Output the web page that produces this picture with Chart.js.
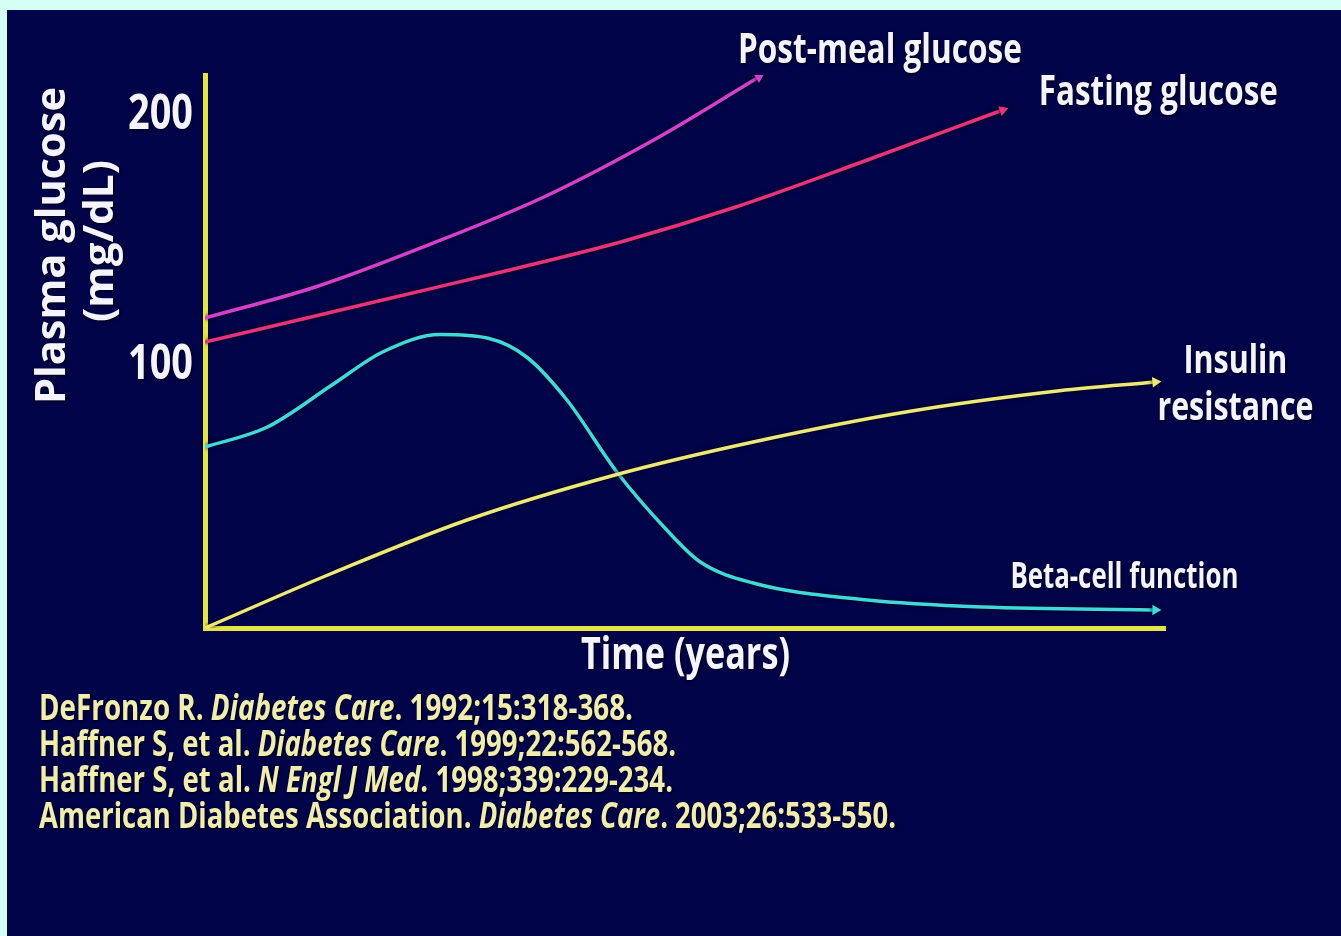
<!DOCTYPE html>
<html>
<head>
<meta charset="utf-8">
<script src="https://cdn.jsdelivr.net/npm/chart.js@4"></script>
<style>
  body { margin: 0; background: #d4fff4; overflow: hidden; }
  #wrap { position: absolute; left: 7px; top: 10px; width: 1334px; height: 926px; background: #02044a; }
</style>
</head>
<body>
<div id="wrap"><canvas id="chart1" width="1334" height="926"></canvas></div>
<script>
// values (x = time in arbitrary years, y = mg/dL)
const postMealT = [0, 1.15, 2.34, 3.53, 4.73, 5.77];
const postMealV = [117.6, 130, 147, 166, 190, 214];
const fastingT = [0, 1.94, 3.14, 4.33, 5.53, 6.9, 8.31];
const fastingV = [108, 125.6, 136.5, 148, 162, 180.8, 200.8];
const insulinT = [0, 1.33, 2.73, 4.29, 5.71, 7.3, 8.9, 9.9];
const insulinV = [-6.4, 15.6, 36.8, 55, 68, 80, 88.5, 92];
const betaT = [0, 0.65, 1.33, 1.85, 2.45, 2.95, 3.35, 3.77, 4.29, 4.81, 5.16, 5.71, 6.9, 8.1, 9.9];
const betaV = [66, 74, 91, 104, 111, 109.5, 102, 84.8, 56, 32.8, 20, 11.6, 4.8, 2, 0.8];
const yTicks = [100, 200];

const seriesNames = ['Post-meal glucose', 'Fasting glucose', 'Insulin resistance', 'Beta-cell function'];
const references = [
  ['DeFronzo R. ', 'Diabetes Care', '. 1992;15:318-368.'],
  ['Haffner S, et al. ', 'Diabetes Care', '. 1999;22:562-568.'],
  ['Haffner S, et al. ', 'N Engl J Med', '. 1998;339:229-234.'],
  ['American Diabetes Association. ', 'Diabetes Care', '. 2003;26:533-550.']
];

const axisYellow = '#e4e445';
const white = '#f4f4ff';
const refYellow = '#f1ecb0';

function pts(ts, vs) {
  return ts.map((t, i) => ({x: t, y: vs[i]}));
}

// arrow head on the last point, turned along the last segment
function lastOnly(v) {
  return ctx => (ctx.dataIndex === ctx.dataset.data.length - 1 ? v : 0);
}
function arrowAngle(ctx) {
  const d = ctx.dataset.data;
  const i = d.length - 1;
  if (ctx.dataIndex !== i) return 0;
  const xs = ctx.chart.scales.x, ys = ctx.chart.scales.y;
  const dx = xs.getPixelForValue(d[i].x) - xs.getPixelForValue(d[i - 1].x);
  const dy = ys.getPixelForValue(d[i].y) - ys.getPixelForValue(d[i - 1].y);
  return Math.atan2(dx, -dy) * 180 / Math.PI;
}

function line(label, data, color) {
  return {
    label: label,
    data: data,
    borderColor: color,
    backgroundColor: color,
    borderWidth: 3.5,
    cubicInterpolationMode: 'monotone',
    pointStyle: 'triangle',
    pointRadius: lastOnly(6),
    pointRotation: arrowAngle,
    pointBorderWidth: 0,
    pointBackgroundColor: color
  };
}

// squeeze text into a given width (the slide font is a narrow one)
function drawFit(ctx, text, left, base, w) {
  const m = ctx.measureText(text).width;
  ctx.save();
  ctx.translate(left, base);
  ctx.scale(w / m, 1);
  ctx.fillText(text, 0, 0);
  ctx.restore();
}

function drawMixed(ctx, parts, left, base, w, size) {
  const fonts = parts.map((p, i) => (i === 1 ? 'italic ' : '') + '700 ' + size + 'px "Open Sans"');
  let total = 0;
  const widths = parts.map((p, i) => { ctx.font = fonts[i]; const mw = ctx.measureText(p).width; total += mw; return mw; });
  const k = w / total;
  ctx.save();
  ctx.translate(left, base);
  ctx.scale(k, 1);
  let x = 0;
  parts.forEach((p, i) => {
    ctx.font = fonts[i];
    ctx.fillText(p, x, 0);
    x += widths[i];
  });
  ctx.restore();
}

const textPlugin = {
  id: 'slideText',
  beforeDatasetsDraw(chart) {
    const c = chart.ctx;
    c.save();
    c.shadowColor = 'rgba(0,0,0,0.85)';
    c.shadowBlur = 4;
  },
  afterDatasetsDraw(chart) {
    chart.ctx.restore();
  },
  afterDraw(chart) {
    const c = chart.ctx;
    const xs = chart.scales.x, ys = chart.scales.y;
    const area = chart.chartArea;
    const endOf = i => {
      const d = chart.data.datasets[i].data;
      const p = d[d.length - 1];
      return {x: xs.getPixelForValue(p.x), y: ys.getPixelForValue(p.y)};
    };
    c.save();
    c.shadowColor = 'rgba(0,0,0,0.9)';
    c.shadowBlur = 3;
    c.shadowOffsetX = 1;
    c.shadowOffsetY = 1;
    c.fillStyle = white;
    c.textAlign = 'left';
    c.textBaseline = 'alphabetic';

    // y tick labels, narrow like the slide font
    c.font = '700 48px "Open Sans"';
    ys.ticks.forEach(t => {
      drawFit(c, String(t.value), area.left - 77, ys.getPixelForValue(t.value) + 17, 65);
    });

    // series labels next to the line ends
    let e = endOf(0);
    c.font = '700 42px "Open Sans"';
    drawFit(c, 'Post-meal glucose', e.x - 21, e.y - 14, 284);
    e = endOf(1);
    drawFit(c, 'Fasting glucose', e.x + 36, e.y - 5, 239);
    e = endOf(2);
    c.font = '700 39px "Open Sans"';
    drawFit(c, 'Insulin', e.x + 28, e.y - 9, 104);
    drawFit(c, 'resistance', e.x + 2, e.y + 38, 156);
    e = endOf(3);
    c.font = '700 36px "Open Sans"';
    drawFit(c, 'Beta-cell function', e.x - 145, e.y - 22, 228);

    // axis titles
    c.font = '700 44px "Open Sans"';
    drawFit(c, 'Time (years)', (area.left + area.right) / 2 - 104, area.bottom + 41, 209);

    c.font = '700 42px "Open Sans"';
    c.save();
    c.translate(58, 236);
    c.rotate(-Math.PI / 2);
    drawFit(c, 'Plasma glucose', -158, 0, 317);
    c.restore();
    c.save();
    c.translate(106, 231);
    c.rotate(-Math.PI / 2);
    drawFit(c, '(mg/dL)', -81, 0, 162);
    c.restore();

    // references
    c.fillStyle = refYellow;
    const refW = [594, 637, 634, 857];
    references.forEach((r, i) => drawMixed(c, r, 32, 710 + i * 36, refW[i], 35));
    c.restore();
  }
};

const ctx = document.getElementById('chart1').getContext('2d');
new Chart(ctx, {
  type: 'line',
  data: {
    datasets: [
      line(seriesNames[0], pts(postMealT, postMealV), '#d43fd0'),
      line(seriesNames[1], pts(fastingT, fastingV), '#e8327c'),
      line(seriesNames[2], pts(insulinT, insulinV), '#ece87a'),
      line(seriesNames[3], pts(betaT, betaV), '#3fd8dc')
    ]
  },
  options: {
    responsive: false,
    animation: false,
    devicePixelRatio: 1,
    layout: { padding: { top: 65, right: 176, bottom: 0, left: 0 } },
    plugins: {
      legend: { display: false },
      tooltip: { enabled: false }
    },
    scales: {
      x: {
        type: 'linear',
        min: 0,
        max: 10,
        grid: { display: false },
        ticks: { display: false },
        border: { color: axisYellow, width: 5 },
        afterFit: s => { s.height = 308; }
      },
      y: {
        min: -6.4,
        max: 214.8,
        grid: { display: false, drawTicks: false },
        border: { color: axisYellow, width: 5 },
        afterBuildTicks: s => { s.ticks = yTicks.map(v => ({value: v})); },
        ticks: { display: false },
        afterFit: s => { s.width = 198; }
      }
    }
  },
  plugins: [textPlugin]
});
</script>
</body>
</html>
